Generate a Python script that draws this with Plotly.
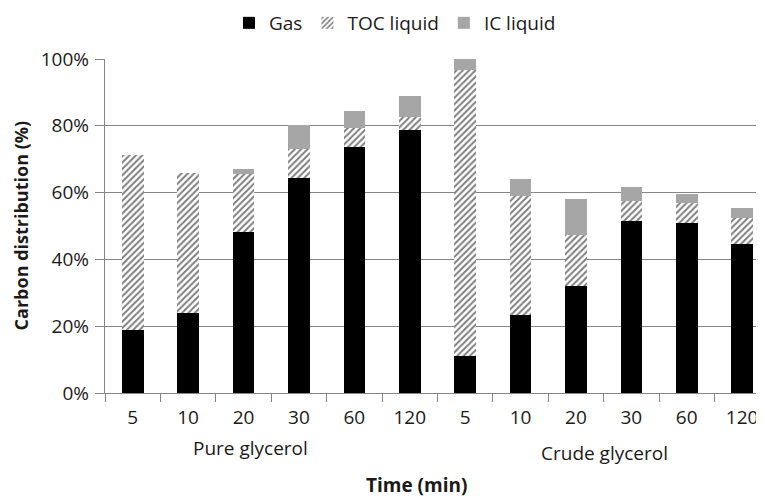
import plotly.graph_objects as go

time_labels = ["5", "10", "20", "30", "60", "120", "5", "10", "20", "30", "60", "120"]
gas = [19.0, 23.9, 48.2, 64.3, 73.8, 78.6, 11.1, 23.5, 32.0, 51.4, 51.0, 44.7]
toc_liquid = [52.4, 42.0, 17.4, 8.8, 5.6, 4.0, 85.5, 35.4, 15.2, 6.0, 6.0, 7.8]
ic_liquid = [0.0, 0.0, 1.5, 7.0, 5.0, 6.2, 3.4, 5.3, 10.8, 4.2, 2.7, 3.0]
group_labels = ["Pure glycerol", "Crude glycerol"]
y_ticks = [0, 20, 40, 60, 80, 100]

x = list(range(len(time_labels)))
FONT = "Open Sans"
TXT = "#1a1a1a"
GRID = "#858585"

fig = go.Figure()
fig.add_trace(go.Bar(x=x, y=gas, name="Gas", marker=dict(color="#000000", line=dict(width=0)), width=0.39))
fig.add_trace(go.Bar(x=x, y=toc_liquid, name="TOC liquid",
                     marker=dict(color="#ffffff", line=dict(width=0),
                                 pattern=dict(shape="/", fgcolor="#000000", bgcolor="#ffffff", size=4.5, solidity=0.45)),
                     width=0.39))
fig.add_trace(go.Bar(x=x, y=ic_liquid, name="IC liquid", marker=dict(color="#a6a6a6", line=dict(width=0)), width=0.39))

# the page body adds an 8px offset; the figure is laid out in screen pixels minus that offset
OFF = 8
W, H = 764 - OFF, 497 - OFF
L = 105 - OFF
T = 58.5 - OFF
B = H - (392.7 - OFF)
plot_w = W - L
plot_h = H - T - B
cat_px = 55.4
x_max = -0.5 + plot_w / cat_px


def px_x(xs):
    return (xs - OFF - L) / plot_w


def px_y(ys):
    return (H - B - (ys - OFF)) / plot_h


fig.update_layout(
    barmode="stack",
    width=W, height=H,
    margin=dict(l=L, r=0, t=T, b=B, autoexpand=False),
    plot_bgcolor="white", paper_bgcolor="white",
    font=dict(family=FONT, size=19, color=TXT),
    showlegend=True,
    legend=dict(orientation="h", xref="container", yref="container",
                x=(229 - OFF) / W, y=1 - (23 - OFF) / H, xanchor="left", yanchor="middle",
                font=dict(family=FONT, size=19, color=TXT), traceorder="normal",
                bgcolor="rgba(0,0,0,0)"),
    xaxis=dict(range=[-0.5, x_max], tickmode="array", tickvals=x, ticktext=time_labels,
               ticks="", showgrid=False, showline=True, linecolor=GRID, linewidth=1.3,
               zeroline=False, ticklabelstandoff=7,
               tickfont=dict(family=FONT, size=19, color=TXT),
               minor=dict(tickmode="array", tickvals=[i - 0.5 for i in range(len(time_labels) + 1)],
                          ticks="outside", ticklen=8, tickcolor=GRID, tickwidth=1.3, showgrid=False)),
    yaxis=dict(range=[0, 100], tickmode="array", tickvals=y_ticks,
               ticktext=[f"{v}%" for v in y_ticks], ticks="outside", ticklen=9,
               tickcolor=GRID, tickwidth=1.3, showline=True, linecolor=GRID, linewidth=1.3,
               showgrid=True, gridcolor=GRID, gridwidth=1.3, zeroline=False, ticklabelstandoff=2,
               tickfont=dict(family=FONT, size=19, color=TXT)),
)

# group labels and axis titles
fig.add_annotation(text=group_labels[0], x=2.12, xref="x", y=px_y(448), yref="paper",
                   showarrow=False, xanchor="center", yanchor="middle",
                   font=dict(family=FONT, size=19, color=TXT))
fig.add_annotation(text=group_labels[1], x=8.52, xref="x", y=px_y(453), yref="paper",
                   showarrow=False, xanchor="center", yanchor="middle",
                   font=dict(family=FONT, size=19, color=TXT))
fig.add_annotation(text="<b>Time (min)</b>", x=px_x(416), xref="paper", y=px_y(485), yref="paper",
                   showarrow=False, xanchor="center", yanchor="middle",
                   font=dict(family=FONT, size=19, color=TXT))
fig.add_annotation(text="<b>Carbon distribution (%)</b>", x=px_x(21), xref="paper", y=px_y(226),
                   yref="paper", showarrow=False, textangle=-90, xanchor="center", yanchor="middle",
                   font=dict(family=FONT, size=18, color=TXT))

fig.write_html("out.html")
